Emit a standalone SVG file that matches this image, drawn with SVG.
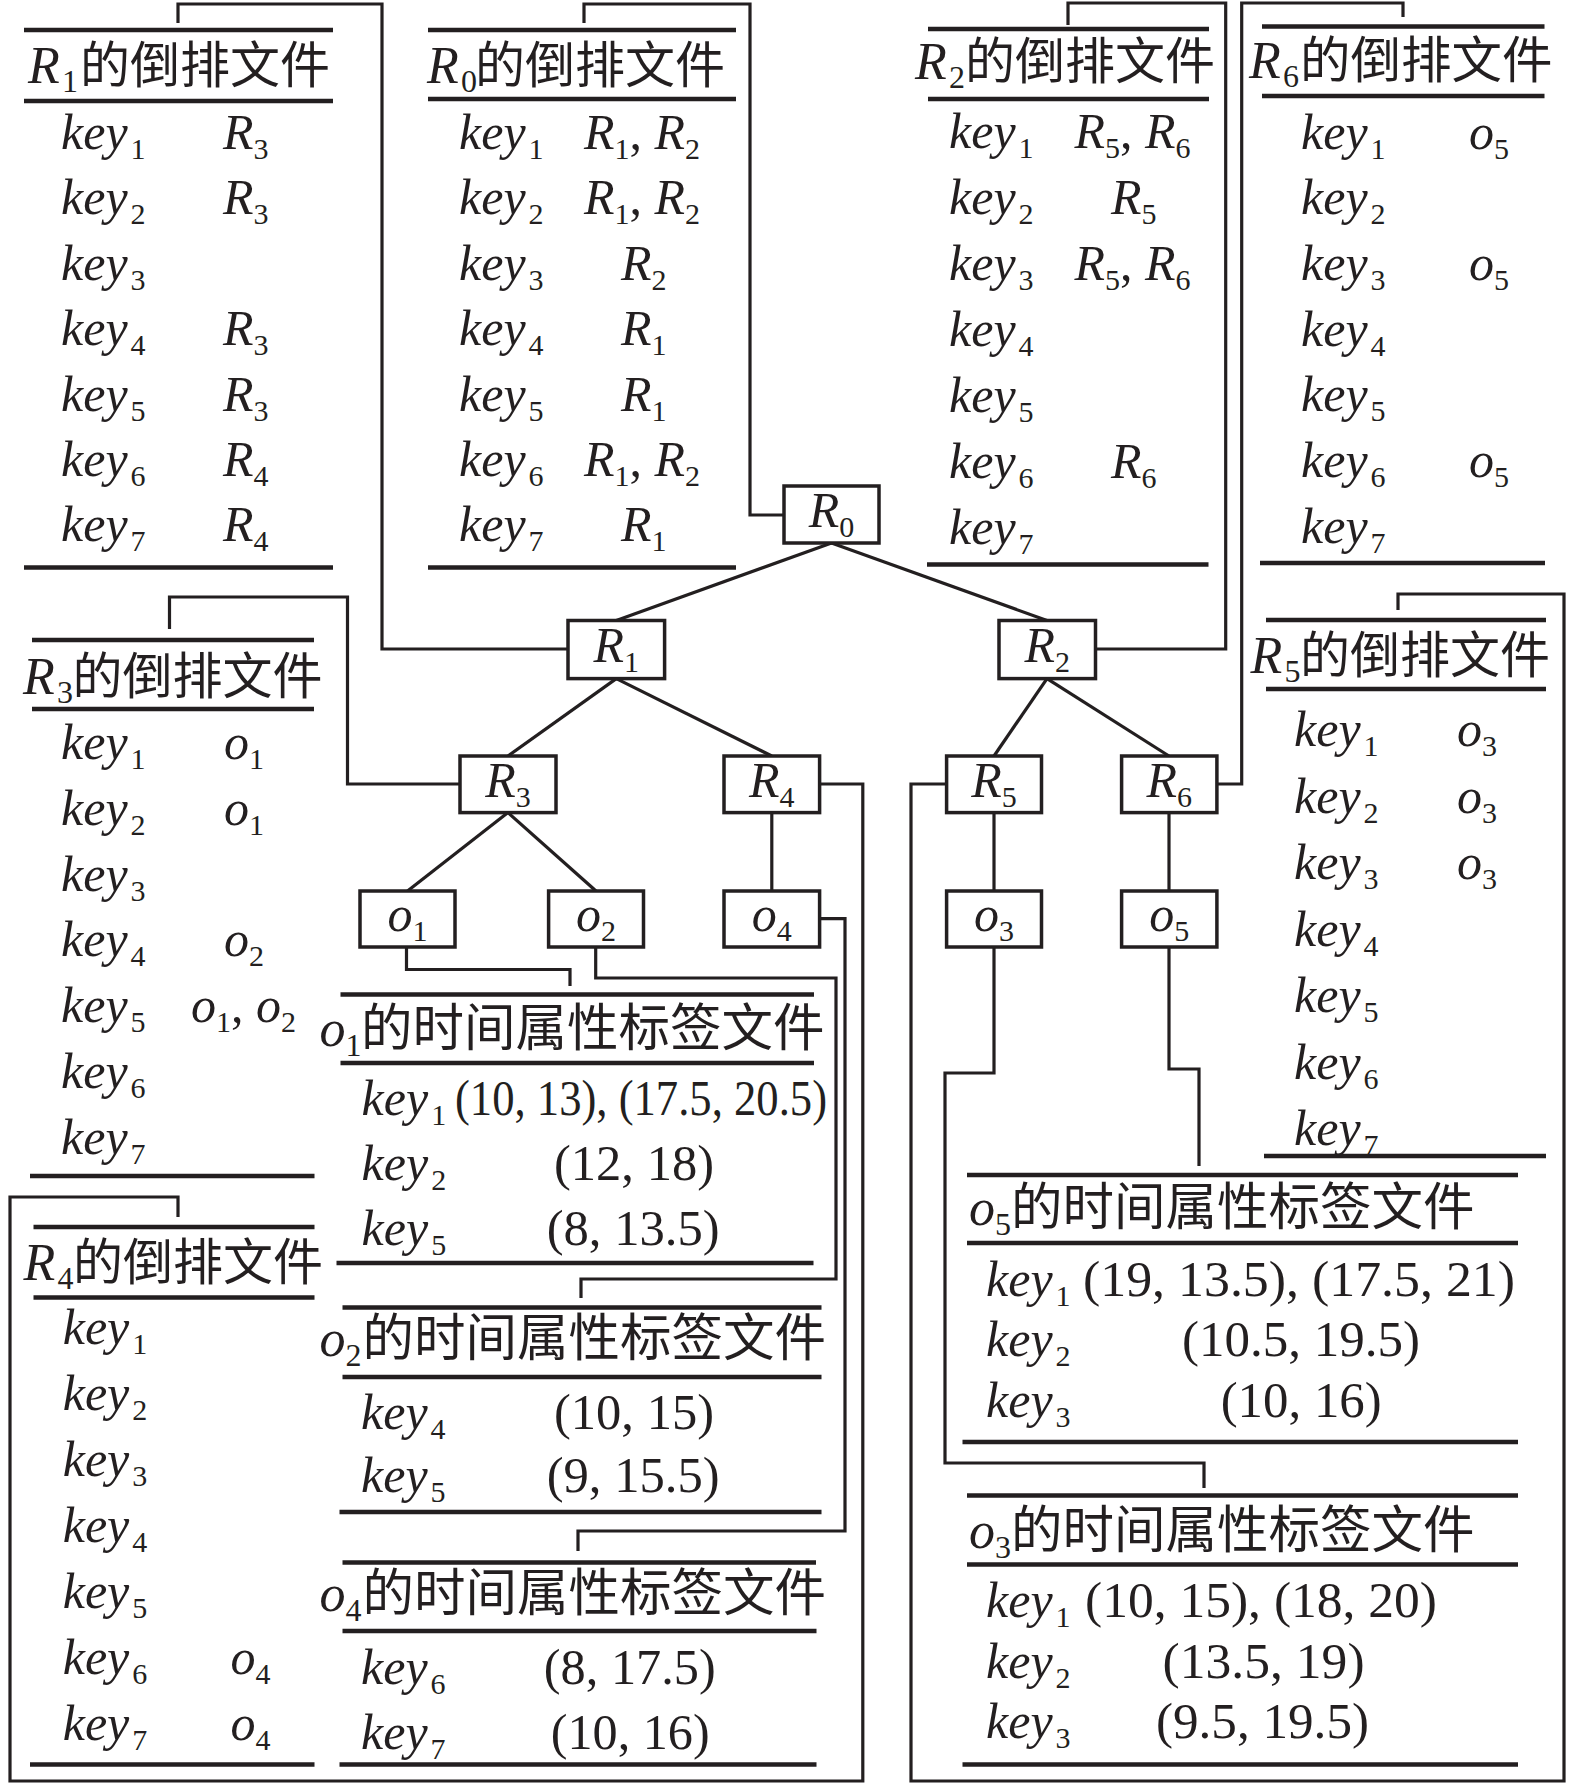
<svg xmlns="http://www.w3.org/2000/svg" width="1575" height="1784" viewBox="0 0 1575 1784">
<style>
.tx{font-family:"Liberation Serif","Noto Sans CJK SC",serif;fill:#231f20;font-size:50px}
.i{font-style:italic}
.s{font-size:30px;font-style:normal}
.ts{font-size:32px;font-style:normal}
.c{font-family:"Noto Sans CJK SC","Liberation Serif",sans-serif;font-style:normal}
.ln{stroke:#231f20;stroke-width:4.5;fill:none}
.cn{stroke:#231f20;stroke-width:3.2;fill:none;stroke-linejoin:miter}
.bx{fill:#fff;stroke:#231f20;stroke-width:3.5}
.ed{stroke:#231f20;stroke-width:3.2}
</style>
<rect x="0" y="0" width="1575" height="1784" fill="#fff"/>

<g id="connectors">
<polyline class="cn" points="784,515 750,515 750,4 584,4 584,23"/>
<polyline class="cn" points="568,649 382,649 382,4 178,4 178,23"/>
<polyline class="cn" points="1095.5,649 1225.7,649 1225.7,3 1068,3 1068,25"/>
<polyline class="cn" points="1217,784 1241.7,784 1241.7,3 1403,3 1403,17"/>
<polyline class="cn" points="460,784 347.5,784 347.5,597 169.5,597 169.5,629"/>
<polyline class="cn" points="819.6,784 862.8,784 862.8,1781 10,1781 10,1197 178,1197 178,1217"/>
<polyline class="cn" points="946.6,784 911,784 911,1781 1564,1781 1564,594 1398,594 1398,610"/>
<polyline class="cn" points="406.5,947 406.5,969.5 570,969.5 570,986"/>
<polyline class="cn" points="595.7,947 595.7,978 836,978 836,1279 581,1279 581,1298"/>
<polyline class="cn" points="819.6,918.6 845,918.6 845,1531 578,1531 578,1551"/>
<polyline class="cn" points="994,947 994,1073 945,1073 945,1463 1204,1463 1204,1488"/>
<polyline class="cn" points="1169,947 1169,1069 1199,1069 1199,1166"/>
</g>

<g id="edges">
<line class="ed" x1="831.5" y1="543" x2="616.3" y2="620.5"/>
<line class="ed" x1="831.5" y1="543" x2="1047" y2="620.5"/>
<line class="ed" x1="616.3" y1="678.6" x2="508" y2="756"/>
<line class="ed" x1="616.3" y1="678.6" x2="771.8" y2="756"/>
<line class="ed" x1="1047" y1="678.6" x2="994" y2="756"/>
<line class="ed" x1="1047" y1="678.6" x2="1169" y2="756"/>
<line class="ed" x1="508" y1="812.6" x2="407.5" y2="891"/>
<line class="ed" x1="508" y1="812.6" x2="596" y2="891"/>
<line class="ed" x1="771.8" y1="812.6" x2="771.8" y2="891"/>
<line class="ed" x1="994" y1="812.6" x2="994" y2="891"/>
<line class="ed" x1="1169" y1="812.6" x2="1169" y2="891"/>
</g>

<g id="node-R0"><rect class="bx" x="784" y="486" width="95" height="57"/><text class="tx" x="831.5" y="527" text-anchor="middle" font-size="48"><tspan class="i">R</tspan><tspan class="s" dy="10">0</tspan></text></g>
<g id="node-R1"><rect class="bx" x="568" y="620.5" width="96.6" height="58.1"/><text class="tx" x="616.3" y="661.5" text-anchor="middle" font-size="48"><tspan class="i">R</tspan><tspan class="s" dy="10">1</tspan></text></g>
<g id="node-R2"><rect class="bx" x="999" y="620.5" width="96.5" height="58.1"/><text class="tx" x="1047.2" y="661.5" text-anchor="middle" font-size="48"><tspan class="i">R</tspan><tspan class="s" dy="10">2</tspan></text></g>
<g id="node-R3"><rect class="bx" x="460" y="756" width="96" height="56.6"/><text class="tx" x="508" y="797" text-anchor="middle" font-size="48"><tspan class="i">R</tspan><tspan class="s" dy="10">3</tspan></text></g>
<g id="node-R4"><rect class="bx" x="724" y="756" width="95.6" height="56.6"/><text class="tx" x="771.8" y="797" text-anchor="middle" font-size="48"><tspan class="i">R</tspan><tspan class="s" dy="10">4</tspan></text></g>
<g id="node-R5"><rect class="bx" x="946.6" y="756" width="94.9" height="56.6"/><text class="tx" x="994" y="797" text-anchor="middle" font-size="48"><tspan class="i">R</tspan><tspan class="s" dy="10">5</tspan></text></g>
<g id="node-R6"><rect class="bx" x="1121.6" y="756" width="95.3" height="56.6"/><text class="tx" x="1169.2" y="797" text-anchor="middle" font-size="48"><tspan class="i">R</tspan><tspan class="s" dy="10">6</tspan></text></g>
<g id="node-o1"><rect class="bx" x="360" y="891" width="95" height="56"/><text class="tx" x="407.5" y="931" text-anchor="middle" font-size="48"><tspan class="i">o</tspan><tspan class="s" dy="10">1</tspan></text></g>
<g id="node-o2"><rect class="bx" x="548.6" y="891" width="94.9" height="56"/><text class="tx" x="596" y="931" text-anchor="middle" font-size="48"><tspan class="i">o</tspan><tspan class="s" dy="10">2</tspan></text></g>
<g id="node-o4"><rect class="bx" x="724" y="891" width="95.6" height="56"/><text class="tx" x="771.8" y="931" text-anchor="middle" font-size="48"><tspan class="i">o</tspan><tspan class="s" dy="10">4</tspan></text></g>
<g id="node-o3"><rect class="bx" x="946.6" y="891" width="94.9" height="56"/><text class="tx" x="994" y="931" text-anchor="middle" font-size="48"><tspan class="i">o</tspan><tspan class="s" dy="10">3</tspan></text></g>
<g id="node-o5"><rect class="bx" x="1121.6" y="891" width="95.3" height="56"/><text class="tx" x="1169.2" y="931" text-anchor="middle" font-size="48"><tspan class="i">o</tspan><tspan class="s" dy="10">5</tspan></text></g>

<g id="table-R1">
<line class="ln" x1="24" y1="30" x2="333" y2="30"/>
<text class="tx" y="83"><tspan class="i" x="28" font-size="52">R</tspan><tspan class="ts" x="62" dy="9">1</tspan><tspan class="c" x="80" dy="-9">的倒排文件</tspan></text>
<line class="ln" x1="24" y1="101" x2="333" y2="101"/>
<text class="tx" y="149"><tspan class="i" x="61">key</tspan><tspan class="s" dx="3" dy="10">1</tspan><tspan class="i" x="223" dy="-10">R</tspan><tspan class="s" dy="10">3</tspan></text>
<text class="tx" y="214"><tspan class="i" x="61">key</tspan><tspan class="s" dx="3" dy="10">2</tspan><tspan class="i" x="223" dy="-10">R</tspan><tspan class="s" dy="10">3</tspan></text>
<text class="tx" y="280"><tspan class="i" x="61">key</tspan><tspan class="s" dx="3" dy="10">3</tspan></text>
<text class="tx" y="345"><tspan class="i" x="61">key</tspan><tspan class="s" dx="3" dy="10">4</tspan><tspan class="i" x="223" dy="-10">R</tspan><tspan class="s" dy="10">3</tspan></text>
<text class="tx" y="411"><tspan class="i" x="61">key</tspan><tspan class="s" dx="3" dy="10">5</tspan><tspan class="i" x="223" dy="-10">R</tspan><tspan class="s" dy="10">3</tspan></text>
<text class="tx" y="476"><tspan class="i" x="61">key</tspan><tspan class="s" dx="3" dy="10">6</tspan><tspan class="i" x="223" dy="-10">R</tspan><tspan class="s" dy="10">4</tspan></text>
<text class="tx" y="541"><tspan class="i" x="61">key</tspan><tspan class="s" dx="3" dy="10">7</tspan><tspan class="i" x="223" dy="-10">R</tspan><tspan class="s" dy="10">4</tspan></text>
<line class="ln" x1="24" y1="567.5" x2="333" y2="567.5"/>
</g>

<g id="table-R0">
<line class="ln" x1="428" y1="30" x2="736" y2="30"/>
<text class="tx" y="83"><tspan class="i" x="427" font-size="52">R</tspan><tspan class="ts" x="461" dy="9">0</tspan><tspan class="c" x="475" dy="-9">的倒排文件</tspan></text>
<line class="ln" x1="428" y1="99" x2="736" y2="99"/>
<text class="tx" y="149"><tspan class="i" x="459">key</tspan><tspan class="s" dx="3" dy="10">1</tspan><tspan class="i" x="584" dy="-10">R</tspan><tspan class="s" dy="10">1</tspan><tspan dy="-10">, </tspan><tspan class="i">R</tspan><tspan class="s" dy="10">2</tspan></text>
<text class="tx" y="214"><tspan class="i" x="459">key</tspan><tspan class="s" dx="3" dy="10">2</tspan><tspan class="i" x="584" dy="-10">R</tspan><tspan class="s" dy="10">1</tspan><tspan dy="-10">, </tspan><tspan class="i">R</tspan><tspan class="s" dy="10">2</tspan></text>
<text class="tx" y="280"><tspan class="i" x="459">key</tspan><tspan class="s" dx="3" dy="10">3</tspan><tspan class="i" x="621" dy="-10">R</tspan><tspan class="s" dy="10">2</tspan></text>
<text class="tx" y="345"><tspan class="i" x="459">key</tspan><tspan class="s" dx="3" dy="10">4</tspan><tspan class="i" x="621" dy="-10">R</tspan><tspan class="s" dy="10">1</tspan></text>
<text class="tx" y="411"><tspan class="i" x="459">key</tspan><tspan class="s" dx="3" dy="10">5</tspan><tspan class="i" x="621" dy="-10">R</tspan><tspan class="s" dy="10">1</tspan></text>
<text class="tx" y="476"><tspan class="i" x="459">key</tspan><tspan class="s" dx="3" dy="10">6</tspan><tspan class="i" x="584" dy="-10">R</tspan><tspan class="s" dy="10">1</tspan><tspan dy="-10">, </tspan><tspan class="i">R</tspan><tspan class="s" dy="10">2</tspan></text>
<text class="tx" y="541"><tspan class="i" x="459">key</tspan><tspan class="s" dx="3" dy="10">7</tspan><tspan class="i" x="621" dy="-10">R</tspan><tspan class="s" dy="10">1</tspan></text>
<line class="ln" x1="428" y1="567.5" x2="736" y2="567.5"/>
</g>

<g id="table-R2">
<line class="ln" x1="928" y1="29" x2="1209" y2="29"/>
<text class="tx" y="79"><tspan class="i" x="915" font-size="52">R</tspan><tspan class="ts" x="949" dy="9">2</tspan><tspan class="c" x="965" dy="-9">的倒排文件</tspan></text>
<line class="ln" x1="928" y1="99" x2="1209" y2="99"/>
<text class="tx" y="147.5"><tspan class="i" x="949">key</tspan><tspan class="s" dx="3" dy="10">1</tspan><tspan class="i" x="1074.5" dy="-10">R</tspan><tspan class="s" dy="10">5</tspan><tspan dy="-10">, </tspan><tspan class="i">R</tspan><tspan class="s" dy="10">6</tspan></text>
<text class="tx" y="213.5"><tspan class="i" x="949">key</tspan><tspan class="s" dx="3" dy="10">2</tspan><tspan class="i" x="1111" dy="-10">R</tspan><tspan class="s" dy="10">5</tspan></text>
<text class="tx" y="279.5"><tspan class="i" x="949">key</tspan><tspan class="s" dx="3" dy="10">3</tspan><tspan class="i" x="1074.5" dy="-10">R</tspan><tspan class="s" dy="10">5</tspan><tspan dy="-10">, </tspan><tspan class="i">R</tspan><tspan class="s" dy="10">6</tspan></text>
<text class="tx" y="345.5"><tspan class="i" x="949">key</tspan><tspan class="s" dx="3" dy="10">4</tspan></text>
<text class="tx" y="411.5"><tspan class="i" x="949">key</tspan><tspan class="s" dx="3" dy="10">5</tspan></text>
<text class="tx" y="477.5"><tspan class="i" x="949">key</tspan><tspan class="s" dx="3" dy="10">6</tspan><tspan class="i" x="1111" dy="-10">R</tspan><tspan class="s" dy="10">6</tspan></text>
<text class="tx" y="543.5"><tspan class="i" x="949">key</tspan><tspan class="s" dx="3" dy="10">7</tspan></text>
<line class="ln" x1="927" y1="564.5" x2="1208.5" y2="564.5"/>
</g>

<g id="table-R6">
<line class="ln" x1="1262" y1="26.5" x2="1544.5" y2="26.5"/>
<text class="tx" y="77.5"><tspan class="i" x="1249" font-size="52">R</tspan><tspan class="ts" x="1283" dy="9">6</tspan><tspan class="c" x="1300" dy="-9" font-size="50.5">的倒排文件</tspan></text>
<line class="ln" x1="1262" y1="96" x2="1544.5" y2="96"/>
<text class="tx" y="148.5"><tspan class="i" x="1301">key</tspan><tspan class="s" dx="3" dy="10">1</tspan><tspan class="i" x="1469" dy="-10">o</tspan><tspan class="s" dy="10">5</tspan></text>
<text class="tx" y="214"><tspan class="i" x="1301">key</tspan><tspan class="s" dx="3" dy="10">2</tspan></text>
<text class="tx" y="280"><tspan class="i" x="1301">key</tspan><tspan class="s" dx="3" dy="10">3</tspan><tspan class="i" x="1469" dy="-10">o</tspan><tspan class="s" dy="10">5</tspan></text>
<text class="tx" y="345.5"><tspan class="i" x="1301">key</tspan><tspan class="s" dx="3" dy="10">4</tspan></text>
<text class="tx" y="411"><tspan class="i" x="1301">key</tspan><tspan class="s" dx="3" dy="10">5</tspan></text>
<text class="tx" y="477"><tspan class="i" x="1301">key</tspan><tspan class="s" dx="3" dy="10">6</tspan><tspan class="i" x="1469" dy="-10">o</tspan><tspan class="s" dy="10">5</tspan></text>
<text class="tx" y="542.5"><tspan class="i" x="1301">key</tspan><tspan class="s" dx="3" dy="10">7</tspan></text>
<line class="ln" x1="1260" y1="563" x2="1545" y2="563"/>
</g>

<g id="table-R3">
<line class="ln" x1="32" y1="640" x2="314" y2="640"/>
<text class="tx" y="694"><tspan class="i" x="23" font-size="52">R</tspan><tspan class="ts" x="57" dy="9">3</tspan><tspan class="c" x="72.5" dy="-9">的倒排文件</tspan></text>
<line class="ln" x1="32" y1="709" x2="314" y2="709"/>
<text class="tx" y="759"><tspan class="i" x="61">key</tspan><tspan class="s" dx="3" dy="10">1</tspan><tspan class="i" x="224" dy="-10">o</tspan><tspan class="s" dy="10">1</tspan></text>
<text class="tx" y="825"><tspan class="i" x="61">key</tspan><tspan class="s" dx="3" dy="10">2</tspan><tspan class="i" x="224" dy="-10">o</tspan><tspan class="s" dy="10">1</tspan></text>
<text class="tx" y="891"><tspan class="i" x="61">key</tspan><tspan class="s" dx="3" dy="10">3</tspan></text>
<text class="tx" y="956"><tspan class="i" x="61">key</tspan><tspan class="s" dx="3" dy="10">4</tspan><tspan class="i" x="224" dy="-10">o</tspan><tspan class="s" dy="10">2</tspan></text>
<text class="tx" y="1022"><tspan class="i" x="61">key</tspan><tspan class="s" dx="3" dy="10">5</tspan><tspan class="i" x="191" dy="-10">o</tspan><tspan class="s" dy="10">1</tspan><tspan dy="-10">, </tspan><tspan class="i">o</tspan><tspan class="s" dy="10">2</tspan></text>
<text class="tx" y="1088"><tspan class="i" x="61">key</tspan><tspan class="s" dx="3" dy="10">6</tspan></text>
<text class="tx" y="1154"><tspan class="i" x="61">key</tspan><tspan class="s" dx="3" dy="10">7</tspan></text>
<line class="ln" x1="30" y1="1176" x2="314.5" y2="1176"/>
</g>

<g id="table-R4">
<line class="ln" x1="33.5" y1="1227" x2="314.5" y2="1227"/>
<text class="tx" y="1280"><tspan class="i" x="23.5" font-size="52">R</tspan><tspan class="ts" x="57.5" dy="9">4</tspan><tspan class="c" x="73" dy="-9">的倒排文件</tspan></text>
<line class="ln" x1="33.5" y1="1297.5" x2="314.5" y2="1297.5"/>
<text class="tx" y="1344"><tspan class="i" x="62.7">key</tspan><tspan class="s" dx="3" dy="10">1</tspan></text>
<text class="tx" y="1410"><tspan class="i" x="62.7">key</tspan><tspan class="s" dx="3" dy="10">2</tspan></text>
<text class="tx" y="1476"><tspan class="i" x="62.7">key</tspan><tspan class="s" dx="3" dy="10">3</tspan></text>
<text class="tx" y="1542"><tspan class="i" x="62.7">key</tspan><tspan class="s" dx="3" dy="10">4</tspan></text>
<text class="tx" y="1608"><tspan class="i" x="62.7">key</tspan><tspan class="s" dx="3" dy="10">5</tspan></text>
<text class="tx" y="1674"><tspan class="i" x="62.7">key</tspan><tspan class="s" dx="3" dy="10">6</tspan><tspan class="i" x="230.5" dy="-10">o</tspan><tspan class="s" dy="10">4</tspan></text>
<text class="tx" y="1740"><tspan class="i" x="62.7">key</tspan><tspan class="s" dx="3" dy="10">7</tspan><tspan class="i" x="230.5" dy="-10">o</tspan><tspan class="s" dy="10">4</tspan></text>
<line class="ln" x1="30" y1="1764.5" x2="314.5" y2="1764.5"/>
</g>

<g id="table-R5">
<line class="ln" x1="1266" y1="620" x2="1546" y2="620"/>
<text class="tx" y="673"><tspan class="i" x="1250.5" font-size="52">R</tspan><tspan class="ts" x="1284.5" dy="9">5</tspan><tspan class="c" x="1300" dy="-9">的倒排文件</tspan></text>
<line class="ln" x1="1266" y1="689" x2="1546" y2="689"/>
<text class="tx" y="746"><tspan class="i" x="1294">key</tspan><tspan class="s" dx="3" dy="10">1</tspan><tspan class="i" x="1457" dy="-10">o</tspan><tspan class="s" dy="10">3</tspan></text>
<text class="tx" y="812.5"><tspan class="i" x="1294">key</tspan><tspan class="s" dx="3" dy="10">2</tspan><tspan class="i" x="1457" dy="-10">o</tspan><tspan class="s" dy="10">3</tspan></text>
<text class="tx" y="879"><tspan class="i" x="1294">key</tspan><tspan class="s" dx="3" dy="10">3</tspan><tspan class="i" x="1457" dy="-10">o</tspan><tspan class="s" dy="10">3</tspan></text>
<text class="tx" y="945.5"><tspan class="i" x="1294">key</tspan><tspan class="s" dx="3" dy="10">4</tspan></text>
<text class="tx" y="1012"><tspan class="i" x="1294">key</tspan><tspan class="s" dx="3" dy="10">5</tspan></text>
<text class="tx" y="1078.5"><tspan class="i" x="1294">key</tspan><tspan class="s" dx="3" dy="10">6</tspan></text>
<text class="tx" y="1145"><tspan class="i" x="1294">key</tspan><tspan class="s" dx="3" dy="10">7</tspan></text>
<line class="ln" x1="1264" y1="1156" x2="1546" y2="1156"/>
</g>

<g id="table-o1">
<line class="ln" x1="340.5" y1="994.5" x2="814" y2="994.5"/>
<text class="tx" y="1046"><tspan class="i" x="319.5" font-size="52">o</tspan><tspan class="ts" x="345.5" dy="10">1</tspan><tspan class="c" x="361" dy="-10" font-size="51.5">的时间属性标签文件</tspan></text>
<line class="ln" x1="340.5" y1="1063" x2="814" y2="1063"/>
<text class="tx" y="1115"><tspan class="i" x="361.6">key</tspan><tspan class="s" dx="3" dy="10">1</tspan></text>
<text class="tx" x="455" y="1115" textLength="372" lengthAdjust="spacingAndGlyphs">(10, 13), (17.5, 20.5)</text>
<text class="tx" y="1180"><tspan class="i" x="361.6">key</tspan><tspan class="s" dx="3" dy="10">2</tspan></text>
<text class="tx" x="554" y="1180" textLength="160" lengthAdjust="spacingAndGlyphs">(12, 18)</text>
<text class="tx" y="1245"><tspan class="i" x="361.6">key</tspan><tspan class="s" dx="3" dy="10">5</tspan></text>
<text class="tx" x="546.7" y="1245" textLength="173" lengthAdjust="spacingAndGlyphs">(8, 13.5)</text>
<line class="ln" x1="336.5" y1="1263" x2="813.5" y2="1263"/>
</g>

<g id="table-o2">
<line class="ln" x1="342.5" y1="1307.5" x2="821.5" y2="1307.5"/>
<text class="tx" y="1356"><tspan class="i" x="319.5" font-size="52">o</tspan><tspan class="ts" x="345.5" dy="10">2</tspan><tspan class="c" x="362.5" dy="-10" font-size="51.5">的时间属性标签文件</tspan></text>
<line class="ln" x1="342.5" y1="1377" x2="821.5" y2="1377"/>
<text class="tx" y="1429"><tspan class="i" x="361">key</tspan><tspan class="s" dx="3" dy="10">4</tspan></text>
<text class="tx" x="554" y="1429" textLength="160" lengthAdjust="spacingAndGlyphs">(10, 15)</text>
<text class="tx" y="1491.5"><tspan class="i" x="361">key</tspan><tspan class="s" dx="3" dy="10">5</tspan></text>
<text class="tx" x="546.7" y="1491.5" textLength="173" lengthAdjust="spacingAndGlyphs">(9, 15.5)</text>
<line class="ln" x1="339.5" y1="1512" x2="821.5" y2="1512"/>
</g>

<g id="table-o4">
<line class="ln" x1="342.5" y1="1562.5" x2="816" y2="1562.5"/>
<text class="tx" y="1611"><tspan class="i" x="319.5" font-size="52">o</tspan><tspan class="ts" x="345.5" dy="10">4</tspan><tspan class="c" x="362.5" dy="-10" font-size="51.5">的时间属性标签文件</tspan></text>
<line class="ln" x1="342.5" y1="1631" x2="816.5" y2="1631"/>
<text class="tx" y="1684"><tspan class="i" x="361">key</tspan><tspan class="s" dx="3" dy="10">6</tspan></text>
<text class="tx" x="543.8" y="1684" textLength="172" lengthAdjust="spacingAndGlyphs">(8, 17.5)</text>
<text class="tx" y="1748.5"><tspan class="i" x="361">key</tspan><tspan class="s" dx="3" dy="10">7</tspan></text>
<text class="tx" x="550.7" y="1748.5" textLength="159" lengthAdjust="spacingAndGlyphs">(10, 16)</text>
<line class="ln" x1="339.5" y1="1764.5" x2="816.5" y2="1764.5"/>
</g>

<g id="table-o5">
<line class="ln" x1="967" y1="1175" x2="1518" y2="1175"/>
<text class="tx" y="1225"><tspan class="i" x="969" font-size="52">o</tspan><tspan class="ts" x="995" dy="10">5</tspan><tspan class="c" x="1011" dy="-10" font-size="51.5">的时间属性标签文件</tspan></text>
<line class="ln" x1="967" y1="1243" x2="1518" y2="1243"/>
<text class="tx" y="1295.5"><tspan class="i" x="986">key</tspan><tspan class="s" dx="3" dy="10">1</tspan></text>
<text class="tx" x="1083" y="1295.5" textLength="432" lengthAdjust="spacingAndGlyphs">(19, 13.5), (17.5, 21)</text>
<text class="tx" y="1356"><tspan class="i" x="986">key</tspan><tspan class="s" dx="3" dy="10">2</tspan></text>
<text class="tx" x="1182" y="1356" textLength="238" lengthAdjust="spacingAndGlyphs">(10.5, 19.5)</text>
<text class="tx" y="1417"><tspan class="i" x="986">key</tspan><tspan class="s" dx="3" dy="10">3</tspan></text>
<text class="tx" x="1220.7" y="1417" textLength="161" lengthAdjust="spacingAndGlyphs">(10, 16)</text>
<line class="ln" x1="962.5" y1="1442" x2="1518" y2="1442"/>
</g>

<g id="table-o3">
<line class="ln" x1="967" y1="1495.5" x2="1518" y2="1495.5"/>
<text class="tx" y="1548"><tspan class="i" x="969" font-size="52">o</tspan><tspan class="ts" x="995" dy="10">3</tspan><tspan class="c" x="1011" dy="-10" font-size="51.5">的时间属性标签文件</tspan></text>
<line class="ln" x1="967" y1="1564.5" x2="1518" y2="1564.5"/>
<text class="tx" y="1617"><tspan class="i" x="986">key</tspan><tspan class="s" dx="3" dy="10">1</tspan></text>
<text class="tx" x="1085" y="1617" textLength="352" lengthAdjust="spacingAndGlyphs">(10, 15), (18, 20)</text>
<text class="tx" y="1677.5"><tspan class="i" x="986">key</tspan><tspan class="s" dx="3" dy="10">2</tspan></text>
<text class="tx" x="1162.6" y="1677.5" textLength="202" lengthAdjust="spacingAndGlyphs">(13.5, 19)</text>
<text class="tx" y="1738"><tspan class="i" x="986">key</tspan><tspan class="s" dx="3" dy="10">3</tspan></text>
<text class="tx" x="1156" y="1738" textLength="213" lengthAdjust="spacingAndGlyphs">(9.5, 19.5)</text>
<line class="ln" x1="962.5" y1="1764.5" x2="1518" y2="1764.5"/>
</g>
</svg>
